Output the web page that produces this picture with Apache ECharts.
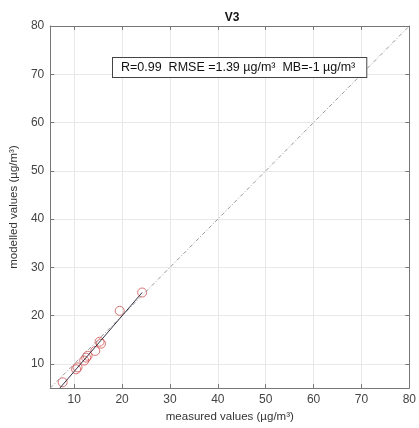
<!DOCTYPE html>
<html>
<head>
<meta charset="utf-8">
<script src="https://cdn.jsdelivr.net/npm/echarts@6/dist/echarts.min.js"></script>
<style>
  html, body { margin: 0; padding: 0; background: #fff; }
  #chart { width: 419px; height: 428px; }
</style>
</head>
<body>
<div id="chart"></div>
<script>
// measured (x) vs modelled (y)
const points = [
  [7.6, 6.2], [10.4, 8.9], [10.7, 9.3], [12.1, 10.7], [12.5, 11.3],
  [12.8, 11.7], [14.4, 12.7], [15.3, 14.6], [15.6, 14.2], [19.5, 21.0],
  [24.2, 24.8]
];
const fitLine = [[7.0, 5.0], [24.2, 24.8]];
const oneToOne = [[5, 5], [80, 80]];
const tickValues = [10, 20, 30, 40, 50, 60, 70, 80];
const statsText = "R=0.99  RMSE =1.39 µg/m³  MB=-1 µg/m³";

const font = "'Liberation Sans', Arial, sans-serif";
const chart = echarts.init(document.getElementById("chart"));

function axis(pos, show, name) {
  return {
    type: "value",
    position: pos,
    min: 5,
    max: 80,
    name: show ? name : "",
    nameLocation: "middle",
    nameGap: pos === "left" ? 30 : 19,
    nameTextStyle: { color: "#333", fontSize: 11.5, fontFamily: font },
    axisLine: { show: true, onZero: false, lineStyle: { color: "#777", width: 1 } },
    axisTick: { show: true, inside: true, length: 4, customValues: tickValues,
      lineStyle: { color: "#777" } },
    axisLabel: { show: show, customValues: tickValues, color: "#444",
      fontSize: 12, fontFamily: font, margin: 6 },
    splitLine: { show: show, lineStyle: { color: "#e8e8e8", width: 1 } }
  };
}

chart.setOption({
  animation: false,
  title: {
    text: "V3",
    left: 227,
    textAlign: "center",
    top: 7,
    textStyle: { fontSize: 12, fontWeight: "bold", color: "#111", fontFamily: font }
  },
  grid: { left: 43, right: 8, top: 26, bottom: 35 },
  xAxis: [axis("bottom", true, "measured values (µg/m³)"), axis("top", false, "")],
  yAxis: [axis("left", true, "modelled values (µg/m³)"), axis("right", false, "")],
  graphic: [{
    type: "text",
    left: 112,
    top: 57,
    z: 100,
    style: {
      text: statsText,
      fontSize: 12.5,
      fontFamily: font,
      fill: "#111",
      borderColor: "#444",
      borderWidth: 1,
      padding: [3, 11, 3, 8],
      backgroundColor: "#fff"
    }
  }],
  series: [
    {
      type: "line",
      data: oneToOne,
      symbol: "none",
      silent: true,
      lineStyle: { color: "#999", width: 1, type: [4, 2, 1, 2] }
    },
    {
      type: "line",
      data: fitLine,
      symbol: "none",
      silent: true,
      lineStyle: { color: "#333344", width: 1 }
    },
    {
      type: "scatter",
      data: points,
      symbol: "circle",
      symbolSize: 9,
      itemStyle: { color: "transparent", borderColor: "#d05050", borderWidth: 1 }
    }
  ]
});
</script>
</body>
</html>
